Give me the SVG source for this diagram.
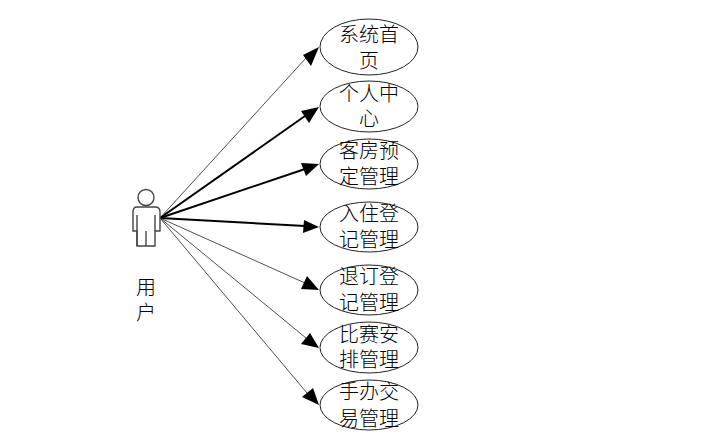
<svg xmlns="http://www.w3.org/2000/svg" width="725" height="444" viewBox="0 0 725 444">
<style>
text{font-family:"Noto Sans CJK SC","Noto Sans CJK JP",sans-serif;font-size:20px;font-weight:300;fill:#000;text-anchor:middle}
.uc{fill:#fff;stroke:#222;stroke-width:1}
.c{stroke:#222;stroke-width:.8;fill:none}
.b{stroke:#000;stroke-width:2;fill:none}
.a{fill:#000;stroke:none}
.act{fill:#fff;stroke:#444;stroke-width:1.4}
</style>
<rect width="725" height="444" fill="#fff"/>
<g id="connectors">
<line class="c" x1="160" y1="218" x2="306" y2="58"/><polygon class="a" points="319,47 311,66 303,55"/>
<line class="b" x1="160" y1="218" x2="305" y2="116"/><polygon class="a" points="319,107 309,123 301,111"/>
<line class="b" x1="160" y1="218" x2="305" y2="169"/><polygon class="a" points="319,164 306,176 301,163"/>
<line class="b" x1="160" y1="218" x2="305" y2="226"/><polygon class="a" points="319,227 303,233 304,220"/>
<line class="c" x1="160" y1="218" x2="305" y2="283"/><polygon class="a" points="319,290 301,289 307,276"/>
<line class="c" x1="160" y1="218" x2="306" y2="338"/><polygon class="a" points="319,348 301,344 310,333"/>
<line class="c" x1="160" y1="218" x2="307" y2="393"/><polygon class="a" points="319,405 302,397 313,388"/>
</g>
<g id="actor">
<circle class="act" cx="146" cy="197.500" r="8"/>
<path class="act" d="M137 207H155Q160 207 160 212V231H155V246H137V231H133V212Q133 207 137 207Z"/>
<path class="act" fill="none" d="M137 215V246M155 215V231M146 231V246"/>
<text x="146" y="295">用<tspan x="146" dy="25">户</tspan></text>
</g>
<g id="n1"><ellipse class="uc" cx="369" cy="47" rx="49" ry="28"/><text x="369" y="42">系统首<tspan x="369" dy="26">页</tspan></text></g>
<g id="n2"><ellipse class="uc" cx="369" cy="106.500" rx="49" ry="25.500"/><text x="369" y="101">个人中<tspan x="369" dy="25">心</tspan></text></g>
<g id="n3"><ellipse class="uc" cx="369" cy="164" rx="49" ry="25"/><text x="369" y="158">客房预<tspan x="369" dy="26">定管理</tspan></text></g>
<g id="n4"><ellipse class="uc" cx="369" cy="227" rx="49" ry="25"/><text x="369" y="221">入住登<tspan x="369" dy="26">记管理</tspan></text></g>
<g id="n5"><ellipse class="uc" cx="369" cy="290" rx="49" ry="25"/><text x="369" y="284">退订登<tspan x="369" dy="26">记管理</tspan></text></g>
<g id="n6"><ellipse class="uc" cx="369" cy="347.500" rx="49" ry="25.500"/><text x="369" y="342">比赛安<tspan x="369" dy="25">排管理</tspan></text></g>
<g id="n7"><ellipse class="uc" cx="369" cy="405" rx="49" ry="25"/><text x="369" y="399">手办交<tspan x="369" dy="27">易管理</tspan></text></g>
</svg>
